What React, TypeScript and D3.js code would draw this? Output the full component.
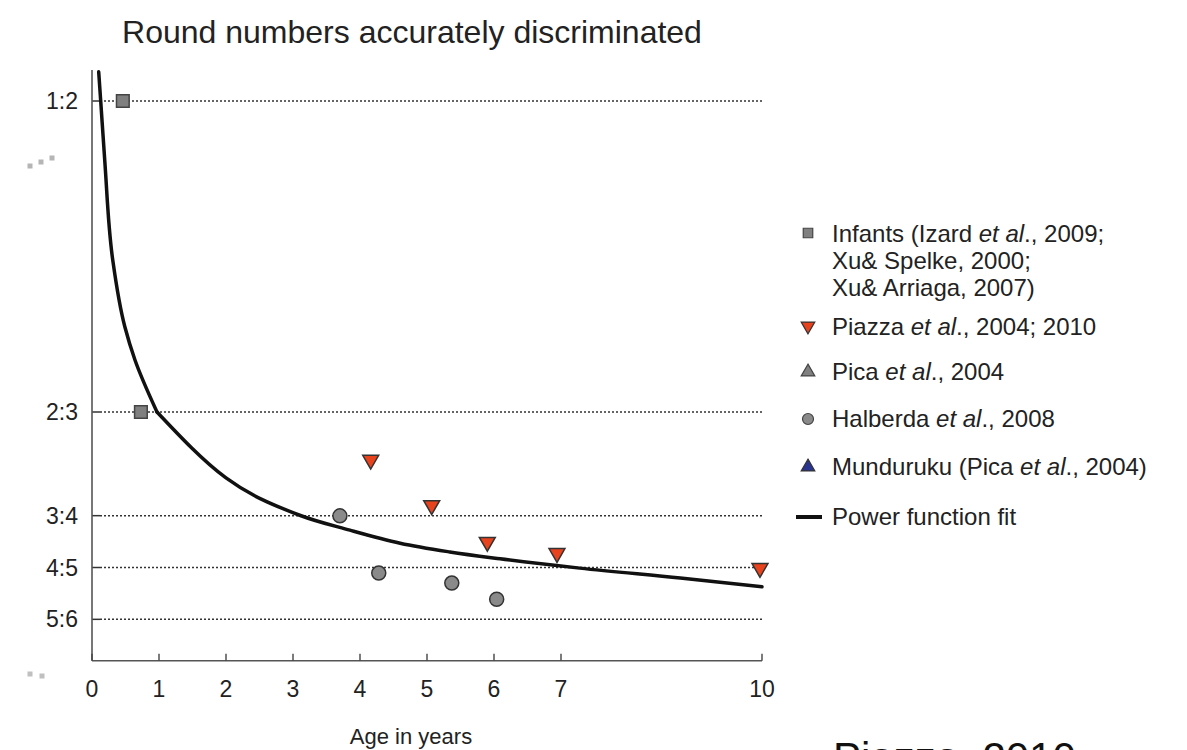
import React from "react";
import * as d3 from "d3";

// ---- data ----
const xTicks = [0, 1, 2, 3, 4, 5, 6, 7, 10];
const yTickLabels = ["1:2", "2:3", "3:4", "4:5", "5:6"];
// Weber fraction position of each ratio row
const yTickValues = [1, 1 / 2, 1 / 3, 1 / 4, 1 / 6];

// Power function fit (age in years, Weber fraction): steep early part
const fitAgeEarly = [0.1, 0.13, 0.19, 0.31, 0.49, 0.64, 0.97];
const fitWEarly = [1.047, 1.0, 0.905, 0.744, 0.637, 0.584, 0.5];
// later part (segments between readings)
const fitAgeLate = [0.97, 2.0, 3.1, 3.85, 4.6, 5.34, 6.09, 7.28, 8.78, 10.0];
const fitWLate = [0.5, 0.394, 0.334, 0.31, 0.289, 0.275, 0.264, 0.249, 0.233, 0.219];

// Infants (squares)
const infantAge = [0.46, 0.73];
const infantW = [1.0, 0.5];

// Piazza et al. (down triangles)
const piazzaAge = [4.16, 5.07, 5.9, 6.94, 9.97];
const piazzaW = [0.423, 0.35, 0.291, 0.273, 0.249];

// Halberda et al. (circles)
const halberdaAge = [3.7, 4.28, 5.37, 6.04];
const halberdaW = [0.333, 0.241, 0.225, 0.199];

const FONT = "'Liberation Sans', Arial, Helvetica, sans-serif";
const TXT = "#222";

export default function App() {
  const x = d3.scaleLinear().domain([0, 10]).range([92, 762]);
  const y = d3.scaleLinear().domain([0.1, 1.05]).range([660.8, 69.9]);

  const early = fitAgeEarly.map((a, i) => [a, fitWEarly[i]] as [number, number]);
  const late = fitAgeLate.map((a, i) => [a, fitWLate[i]] as [number, number]);
  const smooth = d3
    .line<[number, number]>()
    .x((d) => x(d[0]))
    .y((d) => y(d[1]))
    .curve(d3.curveMonotoneY);
  const lin = d3
    .line<[number, number]>()
    .x((d) => x(d[0]))
    .y((d) => y(d[1]))
    .curve(d3.curveMonotoneX);

  const sq = d3.symbol().type(d3.symbolSquare).size(160)()!;
  const tri = d3.symbol().type(d3.symbolTriangle).size(110)()!;
  const triSmall = d3.symbol().type(d3.symbolTriangle).size(80)()!;
  const sqSmall = d3.symbol().type(d3.symbolSquare).size(90)()!;

  const axisY0 = y(0.1);
  const legX = 808;
  const textX = 832;
  const fs = 24;

  return (
    <svg
      width={1187}
      height={750}
      style={{ position: "absolute", left: 0, top: 0, background: "#fff" }}
      fontFamily={FONT}
    >
      {/* title */}
      <text x={412} y={43} textAnchor="middle" fontSize={32} fill={TXT}>
        Round numbers accurately discriminated
      </text>

      {/* gridlines + y ticks */}
      {yTickValues.map((v, i) => (
        <g key={"g" + i}>
          <line x1={92} x2={100} y1={y(v)} y2={y(v)} stroke="#333" strokeWidth={1.5} />
          <line
            x1={100}
            x2={762}
            y1={y(v)}
            y2={y(v)}
            stroke="#333"
            strokeWidth={1.5}
            strokeDasharray="2,2"
          />
          <text x={78} y={y(v) + 8} textAnchor="end" fontSize={23} fill={TXT}>
            {yTickLabels[i]}
          </text>
        </g>
      ))}

      {/* axes */}
      <line x1={92} x2={92} y1={y(1.05)} y2={axisY0} stroke="#555" strokeWidth={1.6} />
      <line x1={92} x2={x(10)} y1={axisY0} y2={axisY0} stroke="#555" strokeWidth={1.6} />
      {xTicks.map((t) => (
        <g key={"x" + t}>
          <line x1={x(t)} x2={x(t)} y1={axisY0} y2={axisY0 - 7} stroke="#444" strokeWidth={1.4} />
          <text x={x(t)} y={697} textAnchor="middle" fontSize={23} fill={TXT}>
            {t}
          </text>
        </g>
      ))}
      <text x={411} y={744} textAnchor="middle" fontSize={22} fill={TXT}>
        Age in years
      </text>

      {/* axis break markers */}
      {[
        [30, 166],
        [41, 162],
        [52, 158],
      ].map((p, i) => (
        <rect key={"b" + i} x={p[0] - 2.5} y={p[1] - 2.5} width={5} height={5} fill="#b5b5b5" />
      ))}
      {[
        [30, 674],
        [42, 676],
      ].map((p, i) => (
        <rect key={"c" + i} x={p[0] - 2.5} y={p[1] - 2.5} width={5} height={5} fill="#c0c0c0" />
      ))}

      {/* fit line */}
      <path d={smooth(early)!} fill="none" stroke="#111" strokeWidth={3.5} strokeLinejoin="round" strokeLinecap="round" />
      <path d={lin(late)!} fill="none" stroke="#111" strokeWidth={3.5} strokeLinejoin="round" strokeLinecap="round" />

      {/* infants */}
      {infantAge.map((a, i) => (
        <path
          key={"i" + i}
          d={sq}
          transform={`translate(${x(a)},${y(infantW[i])})`}
          fill="#808080"
          stroke="#444"
          strokeWidth={1.5}
        />
      ))}
      {/* halberda */}
      {halberdaAge.map((a, i) => (
        <circle
          key={"h" + i}
          cx={x(a)}
          cy={y(halberdaW[i])}
          r={7}
          fill="#8a8a8a"
          stroke="#333"
          strokeWidth={1.5}
        />
      ))}
      {/* piazza */}
      {piazzaAge.map((a, i) => (
        <path
          key={"p" + i}
          d={tri}
          transform={`translate(${x(a)},${y(piazzaW[i])}) rotate(180)`}
          fill="#e8431c"
          stroke="#333"
          strokeWidth={1.5}
        />
      ))}

      {/* legend */}
      <g fontSize={fs} fill={TXT}>
        <path d={sqSmall} transform={`translate(${legX},233)`} fill="#808080" stroke="#444" strokeWidth={1.2} />
        <text x={textX} y={233 + 8.5}>
          Infants (Izard <tspan fontStyle="italic">et al</tspan>., 2009;
        </text>
        <text x={textX} y={260 + 8.5}>Xu&amp; Spelke, 2000;</text>
        <text x={textX} y={287 + 8.5}>Xu&amp; Arriaga, 2007)</text>

        <path d={triSmall} transform={`translate(${legX},326) rotate(180)`} fill="#e8431c" stroke="#333" strokeWidth={1.2} />
        <text x={textX} y={326 + 8.5}>
          Piazza <tspan fontStyle="italic">et al</tspan>., 2004; 2010
        </text>

        <path d={triSmall} transform={`translate(${legX},372)`} fill="#808080" stroke="#444" strokeWidth={1.2} />
        <text x={textX} y={371 + 8.5}>
          Pica <tspan fontStyle="italic">et al</tspan>., 2004
        </text>

        <circle cx={legX} cy={419} r={5.5} fill="#8a8a8a" stroke="#444" strokeWidth={1.2} />
        <text x={textX} y={418 + 8.5}>
          Halberda <tspan fontStyle="italic">et al</tspan>., 2008
        </text>

        <path d={triSmall} transform={`translate(${legX},467)`} fill="#2a3591" stroke="#333" strokeWidth={1.2} />
        <text x={textX} y={466 + 8.5}>
          Munduruku (Pica <tspan fontStyle="italic">et al</tspan>., 2004)
        </text>

        <line x1={796} x2={822} y1={517} y2={517} stroke="#111" strokeWidth={4} />
        <text x={textX} y={516 + 8.5}>Power function fit</text>
      </g>

      {/* source caption (cut off at bottom edge, as in the reference) */}
      <text x={833} y={772} fontSize={42} fill="#111">
        Piazza, 2010
      </text>
    </svg>
  );
}
